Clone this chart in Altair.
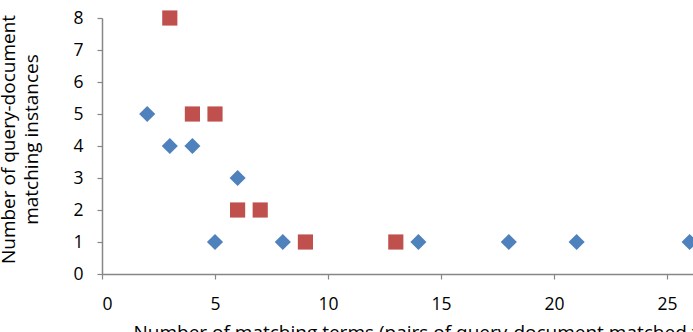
import altair as alt
import pandas as pd

blue_x = [2, 3, 4, 5, 6, 8, 14, 18, 21, 26]
blue_y = [5, 4, 4, 1, 3, 1, 1, 1, 1, 1]
red_x = [3, 4, 5, 6, 7, 9, 13]
red_y = [8, 5, 5, 2, 2, 1, 1]

df = pd.concat([
    pd.DataFrame({"x": blue_x, "y": blue_y, "s": "A"}),
    pd.DataFrame({"x": red_x, "y": red_y, "s": "B"}),
])

FONT = "Open Sans"

x_enc = alt.X("x:Q", scale=alt.Scale(domain=[0, 26.15], nice=False, zero=False),
              axis=alt.Axis(values=[0, 5, 10, 15, 20, 25], grid=False,
                            title="Number of matching terms (pairs of query-document matched terms)",
                            titleFont=FONT, titleFontSize=19, titleFontWeight="normal",
                            titleColor="#000000", titleAlign="left", titleBaseline="top",
                            titleAnchor="start", titleX=31, titleY=49,
                            labelFont=FONT, labelFontSize=17.5, labelColor="#000000",
                            labelPadding=16, domainColor="#868686", tickColor="#868686",
                            tickSize=5, domainWidth=1.5, tickWidth=1.2))
y_enc = alt.Y("y:Q", scale=alt.Scale(domain=[0, 8], nice=False),
              axis=alt.Axis(values=list(range(9)), grid=False,
                            title=["Number of query-document", "matching instances"],
                            titleFont=FONT, titleFontSize=19, titleFontWeight="normal",
                            titleColor="#000000", titleAngle=270, titleAlign="center",
                            titleBaseline="top", titleX=-103, titleY=121, titleLineHeight=23,
                            labelFont=FONT, labelFontSize=17.5, labelColor="#000000",
                            labelPadding=14, domainColor="#868686", tickColor="#868686",
                            tickSize=5, domainWidth=1.5, tickWidth=1.2))

blue = alt.Chart(df[df.s == "A"]).mark_point(
    shape="diamond", filled=True, color="#4F81BD", size=260, opacity=1
).encode(x=x_enc, y=y_enc)

red = alt.Chart(df[df.s == "B"]).mark_point(
    shape="square", filled=True, color="#C0504D", size=230, opacity=1
).encode(x=x_enc, y=y_enc)

chart = alt.layer(blue, red).properties(
    width=591, height=256,
    autosize=alt.AutoSizeParams(type="none"),
    padding={"left": 102, "top": 18, "right": 0, "bottom": 58},
    background="white",
).configure_view(stroke=None)

chart.save("out.html", embed_options={"renderer": "svg", "actions": False})
